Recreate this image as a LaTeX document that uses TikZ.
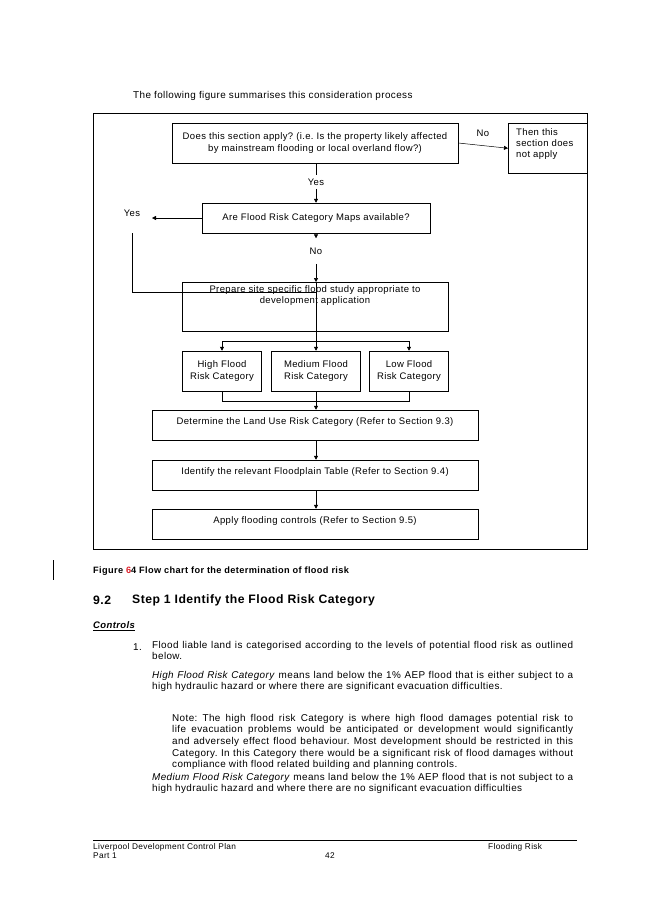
\documentclass[tikz,border=0pt]{standalone}
\usepackage{fontspec}
\setmainfont[LetterSpace=4]{Liberation Sans}
\usetikzlibrary{arrows.meta,positioning}
\definecolor{figred}{RGB}{220,30,40}
\hyphenpenalty=10000
\frenchspacing
\tikzset{
  box/.style={draw,line width=0.5pt,align=center,inner sep=2pt},
  flow/.style={line width=0.5pt,-{Triangle[length=4pt,width=4pt]}},
  line/.style={line width=0.5pt},
  txt/.style={inner sep=0pt,anchor=north west,align=justify,font=\fontsize{9.9}{11.6}\selectfont}
}
\begin{document}
\begin{tikzpicture}[x=1pt,y=-1pt,font=\fontsize{9.5}{11.2}\selectfont]
\useasboundingbox (0,0) rectangle (653,923);
% text above the figure
\node[anchor=west,inner sep=0pt,font=\fontsize{9.9}{11}\selectfont] (intro) at (133,96) {The following figure summarises this consideration process};
% figure frame
\draw[line] (93,113) rectangle (587,549);
% boxes
\node[box,minimum width=286pt,minimum height=40pt] (apply) at (315,143) {Does this section apply? (i.e. Is the property likely affected\\by mainstream flooding or local overland flow?)};
\node[box,anchor=north west,minimum width=79pt,minimum height=50pt] (notapply) at (508,123) {};
\node[anchor=north west,align=left,inner sep=0pt] (notapplytxt) at (516,128) {Then this\\section does\\not apply};
\node[box,minimum width=228pt,minimum height=30pt] (maps) at (316,218) {Are Flood Risk Category Maps available?};
\node[box,anchor=north,minimum width=266pt,minimum height=49pt,text depth=24pt] (study) at (315,282) {Prepare site specific flood study appropriate to\\development application};
\node[box,minimum width=79pt,minimum height=40pt] (high) at (222,371) {High Flood\\Risk Category};
\node[box,minimum width=89pt,minimum height=40pt] (medium) at (316,371) {Medium Flood\\Risk Category};
\node[box,minimum width=79pt,minimum height=40pt] (low) at (409,371) {Low Flood\\Risk Category};
\node[box,minimum width=326pt,minimum height=30pt,text depth=8pt] (landuse) at (315,425) {Determine the Land Use Risk Category (Refer to Section 9.3)};
\node[box,minimum width=326pt,minimum height=30pt,text depth=8pt] (table) at (315,475) {Identify the relevant Floodplain Table (Refer to Section 9.4)};
\node[box,minimum width=326pt,minimum height=30pt,text depth=8pt] (controls) at (315,524) {Apply flooding controls (Refer to Section 9.5)};
% labels
\node (no1) at (483,133) {No};
\node (yes1) at (316,182) {Yes};
\node (yes2) at (132,213) {Yes};
\node (no2) at (316,251) {No};
\coordinate (yesend) at (152,218);
\coordinate (loop) at (132,233);
\coordinate (fork) at (316,341);
\coordinate (join) at (316,401);
% connectors
\draw[flow] (apply.east) -- (notapply.west);
\draw[line] (apply.south -| maps.north) -- (yes1.north);
\draw[flow] (yes1.south) -- (maps.north);
\draw[flow] (maps.west) -- (yesend);
\draw[flow] (maps.south) -- ++(0,5);
\draw[flow] (no2.south) ++(0,6) -- (study.north -| maps.south);
\draw[line] (loop) -- (loop |- 0,292) -- (316,292);
\draw[line] (study.north -| maps.south) -- (fork);
\draw[line] (high.north |- fork) -- (low.north |- fork);
\draw[flow] (high.north |- fork) -- (high.north);
\draw[flow] (fork) -- (medium.north);
\draw[flow] (low.north |- fork) -- (low.north);
\draw[line] (high.south) -- (high.south |- join) -- (low.south |- join) -- (low.south);
\draw[flow] (medium.south) -- (landuse.north -| medium.south);
\draw[flow] (landuse.south -| medium.south) -- (table.north -| medium.south);
\draw[flow] (table.south -| medium.south) -- (controls.north -| medium.south);
% caption and change bar
\draw[line] (53,560) -- (53,580);
\node[anchor=west,inner sep=0pt,font=\bfseries\fontsize{9.2}{11}\selectfont] (caption) at (93,571) {Figure \textcolor{figred}{6}4 Flow chart for the determination of flood risk};
% section heading
\node[anchor=west,inner sep=0pt,font=\bfseries\fontsize{12.2}{14}\selectfont] (secnum) at (93,600) {9.2};
\node[anchor=west,inner sep=0pt,font=\bfseries\fontsize{12.2}{14}\selectfont] (sectitle) at (132,600) {Step 1 Identify the Flood Risk Category};
\node[anchor=west,inner sep=0pt,font=\bfseries\itshape\fontsize{9.5}{11}\selectfont] (ctrl) at (93,626) {\underline{Controls}};
% body text
\node[anchor=west,inner sep=0pt,font=\fontsize{9.9}{11.6}\selectfont] (item) at (133,647) {1.};
\node[txt,text width=421pt] (p1) at (152,641) {Flood liable land is categorised according to the levels of potential flood risk as outlined below.};
\node[txt,text width=421pt] (p2) at (152,671) {\textit{High Flood Risk Category} means land below the 1\% AEP flood that is either subject to a high hydraulic hazard or where there are significant evacuation difficulties.};
\node[txt,text width=401pt] (p3) at (172,714) {Note: The high flood risk Category is where high flood damages potential risk to life evacuation problems would be anticipated or development would significantly and adversely effect flood behaviour. Most development should be restricted in this Category. In this Category there would be a significant risk of flood damages without compliance with flood related building and planning controls.};
\node[txt,text width=421pt] (p4) at (152,773) {\textit{Medium Flood Risk Category} means land below the 1\% AEP flood that is not subject to a high hydraulic hazard and where there are no significant evacuation difficulties};
% footer
\draw[line] (93,840) -- (577,840);
\node[anchor=north west,align=left,inner sep=0pt,font=\fontsize{8.3}{9}\selectfont] (foot) at (93,843) {Liverpool Development Control Plan\\Part 1};
\node[anchor=north,inner sep=0pt,font=\fontsize{8.3}{9}\selectfont] (page) at (330,852) {42};
\node[anchor=north west,inner sep=0pt,font=\fontsize{8.3}{9}\selectfont] (topic) at (488,843) {Flooding Risk};
\end{tikzpicture}
\end{document}
